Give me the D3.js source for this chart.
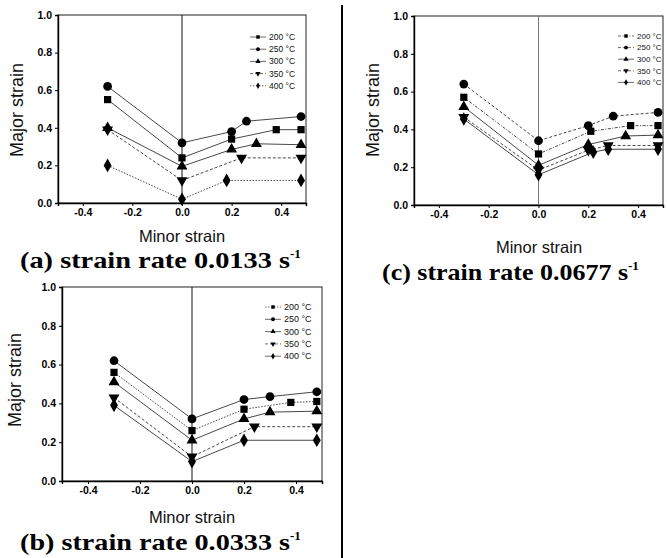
<!DOCTYPE html>
<html>
<head>
<meta charset="utf-8">
<script src="https://cdn.jsdelivr.net/npm/d3@7"></script>
<style>
  body { margin: 0; background: #fff; }
</style>
</head>
<body>
<svg id="fig" width="667" height="558"></svg>
<script>
// series names and ticks
const temps = ["200 °C", "250 °C", "300 °C", "350 °C", "400 °C"];
const xTicks = [-0.4, -0.2, 0.0, 0.2, 0.4];
const yTicks = [0.0, 0.2, 0.4, 0.6, 0.8, 1.0];

// (a) strain rate 0.0133 s-1
const xA = [
  [-0.3, 0, 0.2, 0.38, 0.48],
  [-0.3, 0, 0.2, 0.26, 0.48],
  [-0.3, 0, 0.2, 0.3, 0.48],
  [-0.3, 0, 0.24, 0.48],
  [-0.3, 0, 0.18, 0.48]
];
const yA = [
  [0.55, 0.24, 0.34, 0.39, 0.39],
  [0.62, 0.32, 0.38, 0.435, 0.46],
  [0.40, 0.195, 0.285, 0.315, 0.31],
  [0.39, 0.12, 0.24, 0.24],
  [0.20, 0.02, 0.12, 0.12]
];

// (b) strain rate 0.0333 s-1
const xB = [
  [-0.3, 0, 0.2, 0.38, 0.48],
  [-0.3, 0, 0.2, 0.3, 0.48],
  [-0.3, 0, 0.2, 0.3, 0.48],
  [-0.3, 0, 0.24, 0.48],
  [-0.3, 0, 0.2, 0.48]
];
const yB = [
  [0.56, 0.26, 0.37, 0.405, 0.41],
  [0.62, 0.32, 0.42, 0.435, 0.46],
  [0.51, 0.21, 0.32, 0.355, 0.36],
  [0.43, 0.125, 0.28, 0.28],
  [0.39, 0.10, 0.21, 0.21]
];

// (c) strain rate 0.0677 s-1
const xC = [
  [-0.3, 0, 0.21, 0.37, 0.48],
  [-0.3, 0, 0.2, 0.3, 0.48],
  [-0.3, 0, 0.2, 0.35, 0.48],
  [-0.3, 0, 0.2, 0.28, 0.48],
  [-0.3, 0, 0.22, 0.28, 0.48]
];
const yC = [
  [0.57, 0.27, 0.39, 0.42, 0.42],
  [0.64, 0.34, 0.42, 0.47, 0.49],
  [0.52, 0.21, 0.32, 0.365, 0.37],
  [0.465, 0.185, 0.29, 0.315, 0.315],
  [0.455, 0.16, 0.28, 0.295, 0.295]
];

const sans = "Arial, 'Liberation Sans', sans-serif";
const serif = "'Liberation Serif', 'Times New Roman', serif";
const svg = d3.select("#fig");

// marcadores: cuadrado, circulo, triangulo, triangulo invertido, rombo
const simbolos = [d3.symbolSquare, d3.symbolCircle, d3.symbolTriangle, d3.symbolTriangle, d3.symbolDiamond];
const tamanos = [52, 60, 52, 52, 54];
const rotar = [0, 0, 0, 180, 0];

const paneles = [
  { xs: xA, ys: yA, left: 58, right: 306, top: 15, bottom: 203,
    dashes: [null, null, null, "3,2", "1.5,1.5"], ejeCero: "#111",
    leg: { x: 250, y: 37, dy: 12.2, fs: 8.5 },
    yLab: [17, 110], xLab: [182, 236], cap: [20, 268], capAncho: 270, capLetra: "(a)", capNum: "0.0133" },
  { xs: xB, ys: yB, left: 62, right: 322, top: 287, bottom: 481,
    dashes: ["1.5,1.5", null, null, "3,2", null], ejeCero: "#111",
    leg: { x: 265, y: 307, dy: 12.3, fs: 9 },
    yLab: [15, 380], xLab: [192, 517], cap: [20, 550], capAncho: 270, capLetra: "(b)", capNum: "0.0333" },
  { xs: xC, ys: yC, left: 414, right: 663, top: 16, bottom: 205,
    dashes: ["3,1.5,1,1.5", "3,2", null, "3,2", null], ejeCero: "#777",
    leg: { x: 618, y: 36, dy: 11.6, fs: 8 },
    yLab: [373, 110], xLab: [539, 247], cap: [382, 280], capAncho: 246, capLetra: "(c)", capNum: "0.0677" }
];

paneles.forEach(p => {
  const x = d3.scaleLinear().domain([-0.5, 0.5]).range([p.left, p.right]);
  const y = d3.scaleLinear().domain([0, 1]).range([p.bottom, p.top]);
  const g = svg.append("g");

  // marco
  g.append("rect")
    .attr("x", p.left).attr("y", p.top)
    .attr("width", p.right - p.left).attr("height", p.bottom - p.top)
    .attr("fill", "none").attr("stroke", "#222").attr("stroke-width", 1);

  // linea vertical en x = 0
  g.append("line")
    .attr("x1", x(0)).attr("x2", x(0))
    .attr("y1", y(0)).attr("y2", y(1))
    .attr("stroke", p.ejeCero).attr("stroke-width", 1);

  const ejeX = g.append("g")
    .attr("transform", `translate(0, ${p.bottom})`)
    .call(d3.axisBottom(x).tickValues(xTicks).tickSize(3).tickPadding(3).tickFormat(d => d.toFixed(1)));
  const ejeY = g.append("g")
    .attr("transform", `translate(${p.left}, 0)`)
    .call(d3.axisLeft(y).tickValues(yTicks).tickSize(3).tickPadding(3).tickFormat(d => d.toFixed(1)));
  [ejeX, ejeY].forEach(e => {
    e.select(".domain").attr("stroke-width", 1.4);
    e.selectAll("text")
      .style("font-family", sans).style("font-size", "10.5px").style("font-weight", "bold")
      .attr("fill", "#000");
  });

  // series
  p.xs.forEach((xs, i) => {
    const pts = xs.map((v, j) => [v, p.ys[i][j]]);
    g.append("path")
      .attr("d", d3.line().x(d => x(d[0])).y(d => y(d[1]))(pts))
      .attr("fill", "none").attr("stroke", "#333").attr("stroke-width", 0.9)
      .attr("stroke-dasharray", p.dashes[i]);
    g.selectAll(null).data(pts).enter().append("path")
      .attr("d", d3.symbol().type(simbolos[i]).size(tamanos[i]))
      .attr("transform", d => `translate(${x(d[0])}, ${y(d[1])}) rotate(${rotar[i]})`)
      .attr("fill", "#000");
  });

  // leyenda
  temps.forEach((t, i) => {
    const ly = p.leg.y + i * p.leg.dy;
    g.append("line")
      .attr("x1", p.leg.x).attr("x2", p.leg.x + 16).attr("y1", ly).attr("y2", ly)
      .attr("stroke", "#444").attr("stroke-width", 0.8).attr("stroke-dasharray", p.dashes[i]);
    g.append("path")
      .attr("d", d3.symbol().type(simbolos[i]).size(12))
      .attr("transform", `translate(${p.leg.x + 8}, ${ly}) rotate(${rotar[i]})`)
      .attr("fill", "#000");
    g.append("text")
      .attr("x", p.leg.x + 19).attr("y", ly)
      .attr("dy", "0.35em")
      .style("font-family", sans).style("font-size", p.leg.fs + "px")
      .attr("fill", "#111")
      .text(t);
  });

  // titulos de ejes
  g.append("text")
    .attr("transform", `translate(${p.yLab[0]}, ${p.yLab[1]}) rotate(-90)`)
    .attr("text-anchor", "middle").attr("dy", "0.35em")
    .style("font-family", sans).style("font-size", "18px").attr("fill", "#111")
    .text("Major strain");
  g.append("text")
    .attr("x", p.xLab[0]).attr("y", p.xLab[1])
    .attr("text-anchor", "middle").attr("dy", "0.35em")
    .style("font-family", sans).style("font-size", "16.5px").attr("fill", "#111")
    .text("Minor strain");

  // leyenda inferior
  const cap = g.append("text")
    .attr("x", p.cap[0]).attr("y", p.cap[1])
    .style("font-family", serif).style("font-weight", "bold").style("font-size", "23px")
    .attr("fill", "#000");
  cap.append("tspan")
    .attr("textLength", p.capAncho).attr("lengthAdjust", "spacingAndGlyphs")
    .text(`${p.capLetra} strain rate ${p.capNum} s`);
  cap.append("tspan").attr("dy", -10).style("font-size", "13px").text("-1");
});

// separador vertical
svg.append("line")
  .attr("x1", 342).attr("x2", 342).attr("y1", 5).attr("y2", 558)
  .attr("stroke", "#000").attr("stroke-width", 2);
</script>
</body>
</html>
